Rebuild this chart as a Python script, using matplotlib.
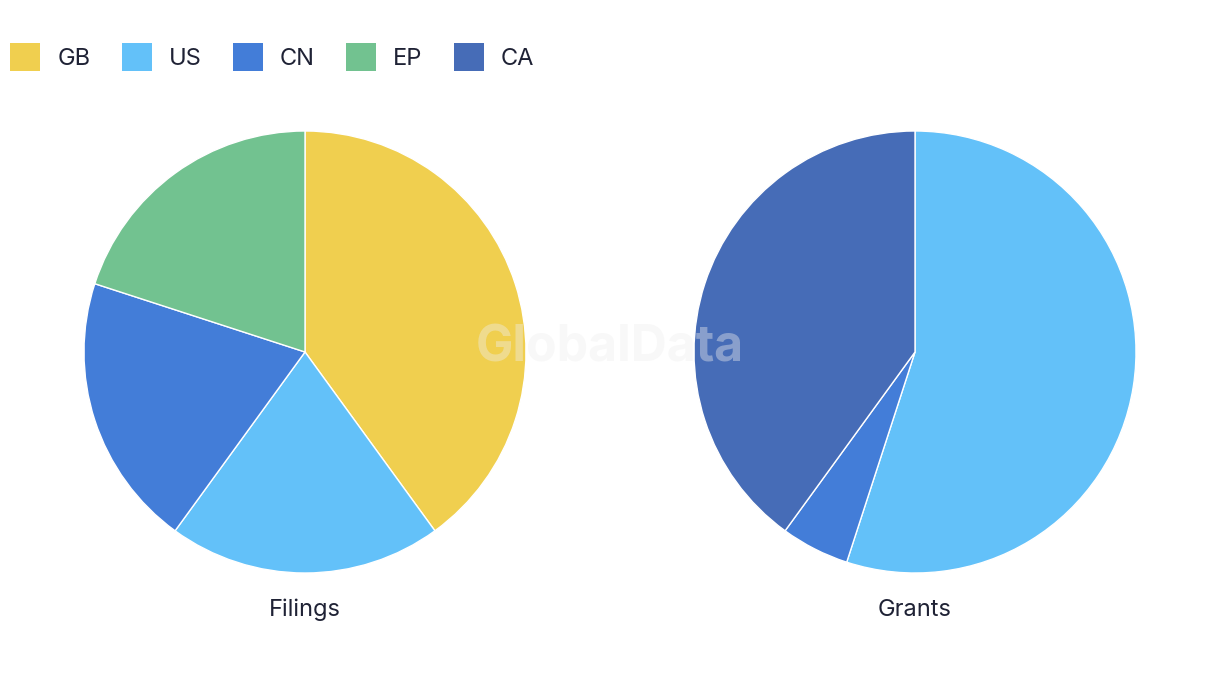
import matplotlib.pyplot as plt
from matplotlib.patches import Patch

plt.rcParams['font.family'] = ['Inter', 'DejaVu Sans']

categories = ["GB", "US", "CN", "EP", "CA"]
colors = ["#F0CF4F", "#63C1F9", "#437DD8", "#72C290", "#466CB7"]
filings = [2, 1, 1, 1, 0]
grants = [0, 11, 1, 0, 8]
titles = ["Filings", "Grants"]

fig = plt.figure(figsize=(12.2, 6.86), dpi=100)

W, H = 1220, 686
r = 221
for cx, values, title in [(305, filings, titles[0]), (915, grants, titles[1])]:
    cy = 352
    ax = fig.add_axes([(cx - r) / W, 1 - (cy + r) / H, 2 * r / W, 2 * r / H])
    vals = [v for v in values if v > 0]
    cols = [c for v, c in zip(values, colors) if v > 0]
    ax.pie(vals, colors=cols, startangle=90, counterclock=False, radius=1,
           wedgeprops=dict(edgecolor="white", linewidth=1))
    ax.set_xlim(-1, 1)
    ax.set_ylim(-1, 1)
    ax.set_aspect("equal")
    ax.axis("off")
    fig.text(cx / W, 1 - 610 / H, title, ha="center", va="center",
             fontsize=17, color="#1f2235")

# faint watermark
fig.text(610 / W, 1 - 348 / H, "GlobalData", ha="center", va="center",
         fontsize=36, fontweight="bold", color="#eeeeee", alpha=0.4)

handles = [Patch(facecolor=c, edgecolor="none") for c in colors]
fig.legend(handles, categories, loc="upper left", bbox_to_anchor=(10 / W, 1 - 43 / H),
           ncol=5, frameon=False, fontsize=17, handlelength=1.28, handleheight=1.45,
           handletextpad=0.72, columnspacing=1.32, labelcolor="#1f2235",
           borderpad=0, borderaxespad=0)

fig.savefig("out.png", dpi=100)
